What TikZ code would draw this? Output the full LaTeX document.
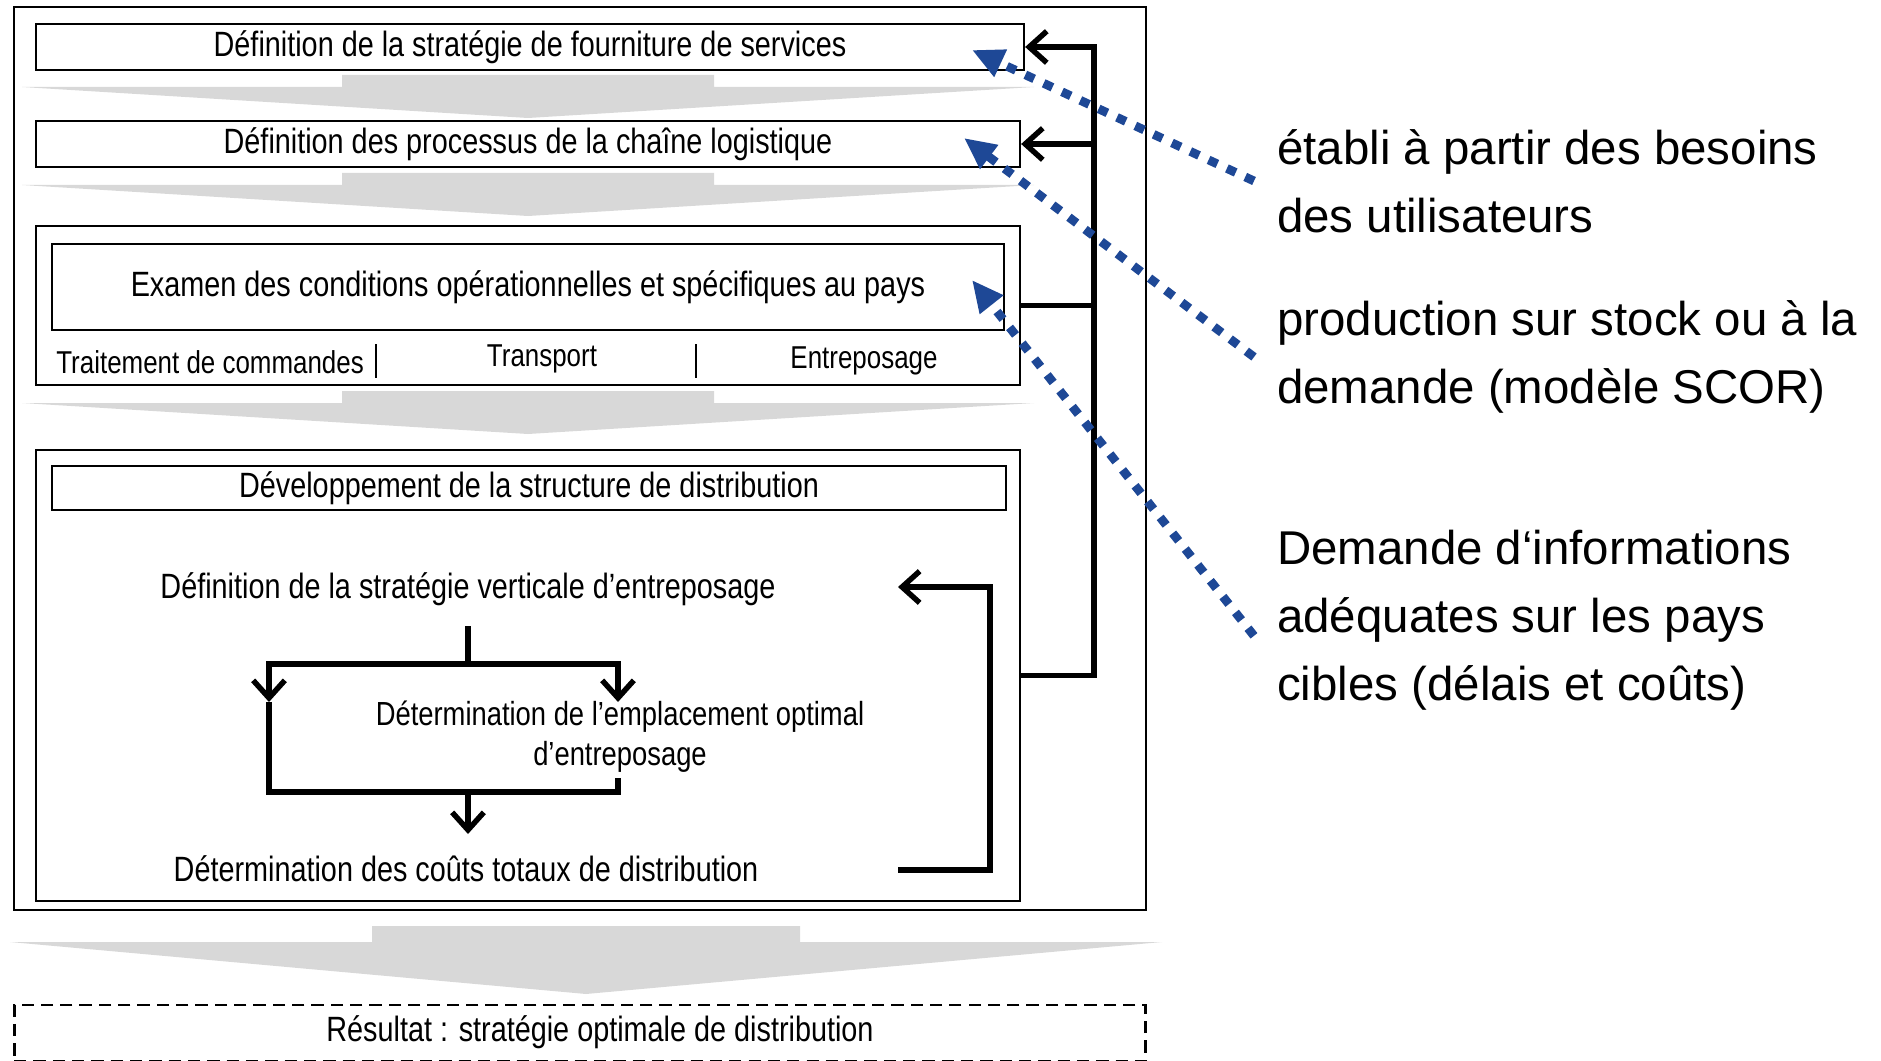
\documentclass[tikz,border=0pt]{standalone}
\usepackage{fontspec}
\setmainfont{Liberation Sans}
\newfontfamily\narrowsf[FakeStretch=0.82]{Liberation Sans}
\usetikzlibrary{arrows.meta, positioning}
\definecolor{noteblue}{RGB}{30,72,150}
\definecolor{chevgray}{RGB}{216,216,216}

\begin{document}
\begin{tikzpicture}[x=0.02cm, y=-0.02cm,
    box/.style={draw, line width=1.4pt, inner sep=0pt, minimum height=0.92cm, font=\narrowsf\fontsize{20}{24}\selectfont},
    frame/.style={draw, line width=1.3pt, inner sep=0pt},
    txt/.style={inner sep=0pt, align=center, font=\narrowsf\fontsize{20}{22.7}\selectfont},
    small/.style={inner sep=0pt, font=\narrowsf\fontsize{18}{22}\selectfont},
    link/.style={line width=3.1pt},
    flow/.style={line width=3.1pt, -{Straight Barb[length=10pt,width=18pt]}},
    note/.style={noteblue, line width=5pt, dash pattern=on 5.5pt off 6pt, -{Triangle[length=18pt,width=16pt]}},
    chevron/.style={fill=chevgray},
    remark/.style={font=\fontsize{27}{38.6}\selectfont, align=left, anchor=west, inner xsep=13pt, inner ysep=0pt}]

    \useasboundingbox (0,0) rectangle (1881,1061);

    % fleches grises entre les etapes
    \foreach \t in {75,173,391}
        \fill[chevron] (342,\t) -- (714,\t) -- (714,\t+12) -- (1034,\t+12) -- (528,\t+43) -- (22,\t+12) -- (342,\t+12) -- cycle;
    \fill[chevron] (372,926) -- (800,926) -- (800,942) -- (1162,942) -- (586,994) -- (10,942) -- (372,942) -- cycle;

    % cadre general et etapes
    \node (all) [frame, minimum width=22.64cm, minimum height=18.06cm] at (580,458.5) {};
    \node (strat) [box, minimum width=19.76cm] at (530,47) {Définition de la stratégie de fourniture de services};
    \node (proc) [box, minimum width=19.68cm] at (528,144) {Définition des processus de la chaîne logistique};

    \node (cond) [frame, minimum width=19.68cm, minimum height=3.18cm] at (528,305.5) {};
    \node (exam) [box, minimum width=19.04cm, minimum height=1.72cm] at (528,287) {Examen des conditions opérationnelles et spécifiques au pays};
    \node (trait) [small, anchor=west] at (56,362) {Traitement de commandes};
    \node (transp) [small] at (542,359) {Transport};
    \node (entre) [small] at (864,361) {Entreposage};
    \draw[line width=1.4pt] (376,344) -- (376,378) (696,344) -- (696,378);

    \node (dev) [frame, minimum width=19.68cm, minimum height=9.02cm] at (528,675.5) {};
    \node (devhead) [box, minimum width=19.08cm, minimum height=0.88cm] at (529,488) {Développement de la structure de distribution};
    \node (vert) [txt] at (468,589) {Définition de la stratégie verticale d’entreposage};
    \node (empl) [txt, font=\narrowsf\fontsize{19}{22.7}\selectfont] at (620,737) {Détermination de l’emplacement optimal\\d’entreposage};
    \node (couts) [txt] at (466,869) {Détermination des coûts totaux de distribution};

    % resultat
    \node (res) [draw, line width=1.6pt, dash pattern=on 7pt off 4pt, inner sep=0pt, minimum width=22.64cm, minimum height=1.12cm] at (580,1033) {};
    \node (restxt) [txt] at (600,1032) {Résultat : stratégie optimale de distribution};

    % liaisons internes
    \coordinate (vout) at (468,626);
    \coordinate (fork) at (468,664);
    \coordinate (inL) at (269,702);
    \coordinate (inR) at (618,702);
    \coordinate (eout) at (618,778);
    \coordinate (joinL) at (269,792);
    \coordinate (join) at (468,792);
    \coordinate (cin) at (468,834);
    \coordinate (fbout) at (898,870);
    \coordinate (fbin) at (898,587);
    \coordinate (bus) at (1094,0);

    \draw[link] (vout) -- (fork);
    \draw[flow] (fork) -| (inL);
    \draw[flow] (fork) -| (inR);
    \draw[link] (inL) -- (joinL) -| (eout);
    \draw[flow] (join) -- (cin);
    \draw[flow] (fbout) -- ++(92,0) |- (fbin);

    % retour vers les etapes
    \draw[flow] (dev.east) -| (bus |- strat.east) -- (strat.east);
    \draw[flow] (bus |- proc.east) -- (proc.east);
    \draw[link] (cond.east) -- (cond.east -| bus);

    % commentaires
    \node (besoins) [remark] at (1254,181) {établi à partir des besoins\\des utilisateurs};
    \node (scor) [remark] at (1254,357) {production sur stock ou à la\\demande (modèle SCOR)};
    \node (cibles) [remark] at (1254,620) {Demande d‘informations\\adéquates sur les pays\\cibles (délais et coûts)};

    \coordinate (t1) at (972,50);
    \coordinate (t2) at (964,138);
    \coordinate (t3) at (972,280);
    \draw[note] (besoins.west) -- (t1);
    \draw[note] (scor.west) -- (t2);
    \draw[note] ([yshift=-9pt]cibles.west) -- (t3);
\end{tikzpicture}
\end{document}
